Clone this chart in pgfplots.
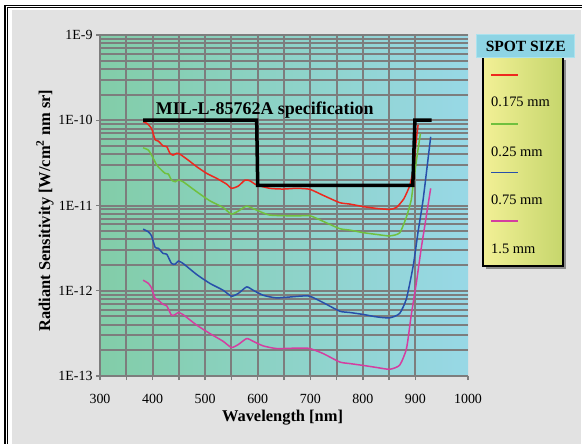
\documentclass[border=0pt]{standalone}
\usepackage{fontspec}
\setmainfont{Liberation Serif}
\usepackage{pgfplots}
\pgfplotsset{compat=1.18}

\definecolor{bggrey}{RGB}{226,226,226}
\definecolor{plotleft}{RGB}{130,205,168}
\definecolor{plotright}{RGB}{152,216,230}
\definecolor{gridgrey}{RGB}{125,125,125}
\definecolor{hdrfill}{RGB}{142,212,228}
\definecolor{hdrline}{RGB}{170,226,238}
\definecolor{yelleft}{RGB}{242,240,150}
\definecolor{yelright}{RGB}{198,214,108}
\definecolor{cred}{RGB}{238,40,30}
\definecolor{cgreen}{RGB}{112,192,62}
\definecolor{cblue}{RGB}{40,80,170}
\definecolor{cmag}{RGB}{212,62,160}

\newcommand{\tickfont}{\fontsize{14}{16}\selectfont}
\newcommand{\labfont}{\fontsize{16.5}{18}\selectfont\bfseries}

\begin{document}
\begin{tikzpicture}[x=1bp,y=1bp]
% page and frame
\useasboundingbox (0,0) rectangle (582,444);
\fill[white] (0,0) rectangle (582,444);
\fill[bggrey] (12,0) rectangle (581,434);
\draw[black, line width=1.8bp] (5,0) -- (5,438.5) -- (582,438.5);
\draw[black, line width=0.8bp] (7.8,0) -- (7.8,436.6) -- (582,436.6);
% plot area gradient
\shade[left color=plotleft, right color=plotright] (100,68) rectangle (468,409);

\begin{axis}[
    at={(100bp,68bp)}, anchor=south west,
    scale only axis,
    width=368bp, height=341bp,
    xmin=300, xmax=1000,
    ymode=log, ymin=1e-13, ymax=1e-9,
    xtick={300,400,...,900},
    extra x ticks={1000},
    extra x tick labels={1000},
    extra x tick style={grid=none},
    minor x tick num=1,
    ytick={1e-13,1e-12,1e-11,1e-10,1e-9},
    yticklabels={1E-13,1E-12,1E-11,1E-10,1E-9},
    grid=both,
    major grid style={color=gridgrey, line width=2bp},
    minor grid style={color=gridgrey, line width=2bp},
    axis line style={draw=none},
    tick pos=left,
    tick align=outside,
    major tick length=4bp,
    minor tick length=4bp,
    tick style={color=gridgrey, line width=1.4bp},
    minor y tick style={draw=none},
    tick label style={font=\tickfont},
    /pgf/number format/assume math mode=true,
    /pgf/number format/1000 sep={},
    xticklabel style={anchor=base, yshift=-23bp},
]
% 0.175 mm
\addplot[cred, line width=1.5bp, smooth, tension=0.35] coordinates {
 (382,9.6e-11) (389,9.2e-11) (398,8.0e-11) (405,5.9e-11) (411,5.7e-11)
 (420,5.0e-11) (427,4.9e-11) (433,4.1e-11) (439,3.9e-11) (446,4.1e-11)
 (452,4.0e-11) (468,3.4e-11) (484,2.85e-11) (503,2.38e-11) (522,2.08e-11)
 (541,1.78e-11) (550,1.59e-11) (563,1.69e-11) (576,1.99e-11) (585,1.95e-11)
 (598,1.74e-11) (623,1.59e-11) (648,1.56e-11) (674,1.59e-11) (699,1.55e-11)
 (724,1.32e-11) (756,1.08e-11) (775,1.04e-11) (801,9.7e-12) (826,9.25e-12)
 (851,9.0e-12) (864,9.5e-12) (878,1.2e-11) (889,1.7e-11) (894,2.3e-11)
 (898,3.2e-11) (901,5.4e-11) (905,8.8e-11)
};
% 0.25 mm
\addplot[cgreen, line width=1.5bp, smooth, tension=0.35] coordinates {
 (382,4.75e-11) (392,4.47e-11) (398,3.9e-11) (408,2.98e-11) (417,2.6e-11)
 (424,2.38e-11) (430,2.34e-11) (436,1.99e-11) (443,1.9e-11) (449,1.99e-11)
 (458,1.9e-11) (484,1.45e-11) (509,1.135e-11) (534,9.5e-12) (550,7.93e-12)
 (566,8.83e-12) (579,9.84e-12) (598,8.83e-12) (623,7.72e-12) (674,7.55e-12)
 (699,7.6e-12) (724,6.54e-12) (756,5.35e-12) (775,5.15e-12) (801,4.8e-12)
 (826,4.58e-12) (851,4.4e-12) (870,4.78e-12) (883,7.37e-12) (892,1.16e-11)
 (896,1.82e-11) (902,3.41e-11) (909.5,7.0e-11)
};
% 0.75 mm
\addplot[cblue, line width=1.5bp, smooth, tension=0.35] coordinates {
 (382,5.28e-12) (392,4.91e-12) (398,4.41e-12) (405,3.22e-12) (411,3.15e-12)
 (420,2.74e-12) (427,2.68e-12) (436,2.09e-12) (443,2.05e-12) (449,2.23e-12)
 (458,2.09e-12) (484,1.55e-12) (509,1.22e-12) (534,1.016e-12) (550,8.64e-13)
 (563,9.3e-13) (579,1.11e-12) (591,1.016e-12) (610,8.88e-13) (636,8.25e-13)
 (680,8.64e-13) (699,8.64e-13) (724,7.29e-13) (756,5.76e-13) (775,5.56e-13)
 (801,5.27e-13) (826,4.94e-13) (851,4.81e-13) (870,5.42e-13) (883,8.12e-13)
 (896,2.0e-12) (905,4.91e-12) (914.5,1.157e-11) (926,4.47e-11) (929,6.4e-11)
};
% 1.5 mm
\addplot[cmag, line width=1.5bp, smooth, tension=0.35] coordinates {
 (382,1.33e-12) (392,1.22e-12) (398,1.08e-12) (405,8.12e-13) (411,7.76e-13)
 (420,6.91e-13) (427,6.65e-13) (436,5.17e-13) (443,5.25e-13) (449,5.56e-13)
 (458,5.25e-13) (484,3.95e-13) (509,3.15e-13) (534,2.56e-13) (550,2.16e-13)
 (563,2.34e-13) (579,2.75e-13) (591,2.56e-13) (610,2.26e-13) (636,2.10e-13)
 (680,2.13e-13) (699,2.10e-13) (724,1.84e-13) (756,1.46e-13) (775,1.40e-13)
 (801,1.33e-13) (826,1.26e-13) (851,1.20e-13) (870,1.34e-13) (883,2.10e-13)
 (892,5.17e-13) (902,1.27e-12) (911,3.14e-12) (921,7.72e-12) (929,1.59e-11)
};
% MIL-L-85762A specification
\addplot[black, line width=3.5bp, line join=miter] coordinates {
 (382,1e-10) (598,1e-10) (600,1.72e-11) (895,1.72e-11) (899,1e-10) (931,1e-10)
};
\end{axis}

% labels
\node[font=\labfont, anchor=base, inner sep=0] at (282.5,22) {Wavelength [nm]};
\node[font=\labfont, rotate=90, anchor=base, inner sep=0] at (50,233.5)
  {Radiant Sensitivity [W/cm\textsuperscript{2} nm sr]};
\node[font=\fontsize{18}{20}\selectfont\bfseries, anchor=base west, inner sep=0]
  at (155.7,329) {MIL-L-85762A specification};

% legend
\fill[black!45] (486,175) rectangle (566,384);
\shade[left color=yelleft, right color=yelright] (483.3,178) rectangle (562.7,386.7);
\draw[black, line width=2bp] (483.3,178) rectangle (562.7,386.7);
\draw[fill=hdrfill, draw=hdrline, line width=1.5bp] (476.7,386.7) rectangle (574.7,409.7);
\node[font=\fontsize{15.6}{17}\selectfont\bfseries] at (525.7,398) {SPOT SIZE};
\draw[cred, line width=1.5bp] (491,369) -- (518.3,369);
\draw[cgreen, line width=1.5bp] (491,320) -- (518.3,320);
\draw[cblue, line width=1.5bp] (491,271.3) -- (518.3,271.3);
\draw[cmag, line width=1.5bp] (491,223) -- (518.3,223);
\begin{scope}[every node/.style={font=\fontsize{14.5}{16}\selectfont, anchor=west, inner sep=0}]
\node at (491,342.3) {0.175 mm};
\node at (491,292.3) {0.25 mm};
\node at (491,244) {0.75 mm};
\node at (491,194.7) {1.5 mm};
\end{scope}
\end{tikzpicture}
\end{document}
